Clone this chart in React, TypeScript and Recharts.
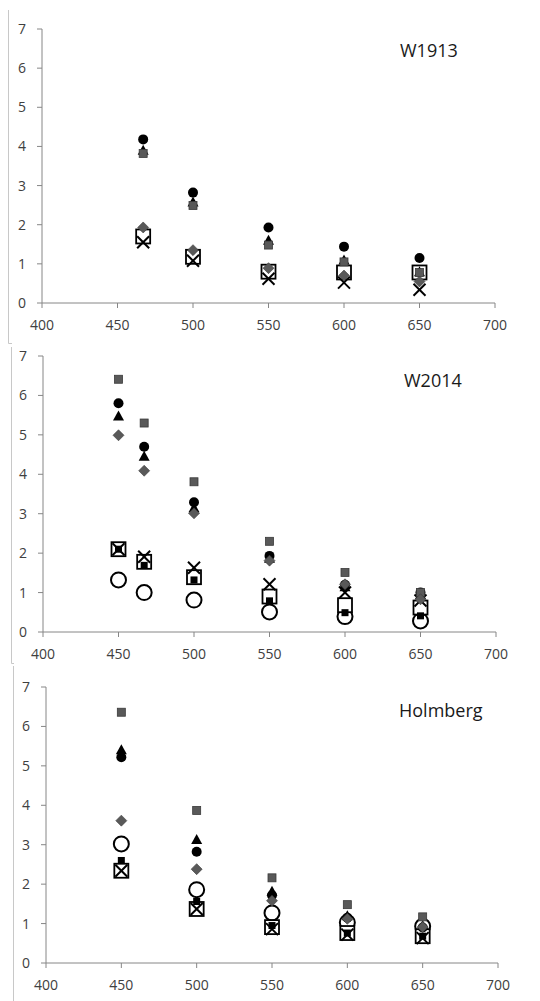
import React from "react";
import { ScatterChart, Scatter, XAxis, YAxis } from "recharts";

// ---------- data ----------
const xTicks = [400, 450, 500, 550, 600, 650, 700];
const yTicks = [0, 1, 2, 3, 4, 5, 6, 7];

// Panel 1: W1913
const w1913X = [467, 500, 550, 600, 650];
const w1913Circle = [4.18, 2.82, 1.93, 1.44, 1.15];
const w1913Triangle = [3.9, 2.58, 1.6, 1.1, 0.8];
const w1913Square = [3.82, 2.49, 1.48, 1.05, 0.78];
const w1913Diamond = [1.93, 1.35, 0.89, 0.7, 0.55];
const w1913OpenSquare = [1.7, 1.18, 0.8, 0.78, 0.78];
const w1913Cross = [1.55, 1.08, 0.62, 0.52, 0.34];

// Panel 2: W2014
const w2014X = [450, 467, 500, 550, 600, 650];
const w2014Square = [6.41, 5.3, 3.81, 2.3, 1.51, 1.0];
const w2014Circle = [5.8, 4.7, 3.29, 1.93, 1.2, 1.0];
const w2014Triangle = [5.48, 4.46, 3.15, 1.87, 1.15, 0.95];
const w2014Diamond = [4.99, 4.09, 3.01, 1.81, 1.21, 0.83];
const w2014Cross = [2.1, 1.91, 1.63, 1.21, 1.0, 0.8];
const w2014OpenSquare = [2.1, 1.78, 1.39, 0.9, 0.68, 0.62];
const w2014SmallSquare = [2.1, 1.69, 1.32, 0.79, 0.49, 0.41];
const w2014OpenCircle = [1.32, 1.0, 0.81, 0.51, 0.39, 0.28];

// Panel 3: Holmberg
const holmX = [450, 500, 550, 600, 650];
const holmSquare = [6.36, 3.87, 2.16, 1.48, 1.17];
const holmTriangle = [5.41, 3.13, 1.82, 1.2, 0.95];
const holmCircle = [5.22, 2.82, 1.72, 1.15, 0.9];
const holmDiamond = [3.61, 2.38, 1.58, 1.12, 0.91];
const holmOpenCircle = [3.02, 1.86, 1.27, 1.03, 0.93];
const holmSmallSquare = [2.6, 1.56, 0.95, 0.76, 0.68];
const holmOpenSquare = [2.34, 1.37, 0.91, 0.76, 0.68];
const holmCross = [2.34, 1.37, 0.86, 0.72, 0.63];

// ---------- markers ----------
type Kind =
  | "circle"
  | "triangle"
  | "square"
  | "diamond"
  | "openSquare"
  | "cross"
  | "smallSquare"
  | "openCircle";

const GREY = "#595959";

const marker = (kind: Kind) => (props: any) => {
  const { cx, cy } = props;
  if (cx == null || cy == null || isNaN(cx) || isNaN(cy)) return <g />;
  switch (kind) {
    case "circle":
      return <circle cx={cx} cy={cy} r={5} fill="#000" />;
    case "triangle":
      return (
        <polygon
          points={`${cx},${cy - 5.5} ${cx + 5.5},${cy + 4.5} ${cx - 5.5},${cy + 4.5}`}
          fill="#000"
        />
      );
    case "square":
      return (
        <rect x={cx - 4} y={cy - 4} width={8} height={8} fill={GREY} stroke="#3a3a3a" strokeWidth={0.8} />
      );
    case "diamond":
      return (
        <polygon
          points={`${cx},${cy - 5.5} ${cx + 5.5},${cy} ${cx},${cy + 5.5} ${cx - 5.5},${cy}`}
          fill={GREY}
          stroke="#3a3a3a"
          strokeWidth={0.6}
        />
      );
    case "openSquare":
      return (
        <rect x={cx - 7} y={cy - 7} width={14} height={14} fill="#fff" stroke="#000" strokeWidth={1.8} />
      );
    case "cross":
      return (
        <g stroke="#000" strokeWidth={2}>
          <line x1={cx - 6} y1={cy - 6} x2={cx + 6} y2={cy + 6} />
          <line x1={cx - 6} y1={cy + 6} x2={cx + 6} y2={cy - 6} />
        </g>
      );
    case "smallSquare":
      return <rect x={cx - 3.5} y={cy - 3.5} width={7} height={7} fill="#000" />;
    case "openCircle":
      return <circle cx={cx} cy={cy} r={7.5} fill="#fff" stroke="#000" strokeWidth={2} />;
  }
  return <g />;
};

const toData = (xs: number[], ys: number[]) => xs.map((x, i) => ({ x, y: ys[i] }));

const AXIS = "#868686";
const FONT = "'Open Sans', sans-serif";

type SeriesDef = { kind: Kind; xs: number[]; ys: number[] };

// drawing order: bottom -> top
const ORDER: Kind[] = [
  "openCircle",
  "openSquare",
  "cross",
  "smallSquare",
  "triangle",
  "circle",
  "square",
  "diamond",
];

function Panel(props: {
  top: number;
  height: number;
  plotLeft: number;
  plotRight: number;
  plotTop: number;
  plotBottom: number;
  series: SeriesDef[];
}) {
  const { top, height, plotLeft, plotRight, plotTop, plotBottom, series } = props;
  const xAxisH = 30;
  const sorted = [...series].sort((a, b) => ORDER.indexOf(a.kind) - ORDER.indexOf(b.kind));
  return (
    <div style={{ position: "absolute", left: 0, top, width: 540, height }}>
      <ScatterChart
        width={540}
        height={height}
        margin={{
          top: plotTop,
          left: 0,
          right: 540 - plotRight,
          bottom: height - plotBottom - xAxisH,
        }}
      >
        <XAxis
          type="number"
          dataKey="x"
          domain={[400, 700]}
          ticks={xTicks}
          interval={0}
          height={xAxisH}
          axisLine={{ stroke: AXIS, strokeWidth: 1 }}
          tickLine={{ stroke: AXIS }}
          tickSize={5}
          tickMargin={12}
          tick={{ fill: "#404040", fontSize: 14, fontFamily: FONT }}
          allowDataOverflow
        />
        <YAxis
          type="number"
          dataKey="y"
          domain={[0, 7]}
          ticks={yTicks}
          interval={0}
          width={plotLeft}
          axisLine={{ stroke: AXIS, strokeWidth: 1 }}
          tickLine={{ stroke: AXIS }}
          tickSize={5}
          tickMargin={11}
          tick={{ fill: "#404040", fontSize: 14, fontFamily: FONT }}
          allowDataOverflow
        />
        {sorted.map((s, i) => (
          <Scatter
            key={i}
            data={toData(s.xs, s.ys)}
            shape={marker(s.kind)}
            isAnimationActive={false}
          />
        ))}
      </ScatterChart>
    </div>
  );
}

export default function App() {
  return (
    <div
      style={{
        position: "absolute",
        left: 0,
        top: 0,
        width: 540,
        height: 1001,
        background: "#fff",
        overflow: "hidden",
      }}
    >
      <Panel
        top={0}
        height={340}
        plotLeft={42}
        plotRight={495}
        plotTop={29}
        plotBottom={303}
        series={[
          { kind: "circle", xs: w1913X, ys: w1913Circle },
          { kind: "triangle", xs: w1913X, ys: w1913Triangle },
          { kind: "square", xs: w1913X, ys: w1913Square },
          { kind: "diamond", xs: w1913X, ys: w1913Diamond },
          { kind: "openSquare", xs: w1913X, ys: w1913OpenSquare },
          { kind: "cross", xs: w1913X, ys: w1913Cross },
        ]}
      />
      <Panel
        top={340}
        height={325}
        plotLeft={43}
        plotRight={496}
        plotTop={16}
        plotBottom={292}
        series={[
          { kind: "square", xs: w2014X, ys: w2014Square },
          { kind: "circle", xs: w2014X, ys: w2014Circle },
          { kind: "triangle", xs: w2014X, ys: w2014Triangle },
          { kind: "diamond", xs: w2014X, ys: w2014Diamond },
          { kind: "cross", xs: w2014X, ys: w2014Cross },
          { kind: "openSquare", xs: w2014X, ys: w2014OpenSquare },
          { kind: "smallSquare", xs: w2014X, ys: w2014SmallSquare },
          { kind: "openCircle", xs: w2014X, ys: w2014OpenCircle },
        ]}
      />
      <Panel
        top={665}
        height={336}
        plotLeft={46}
        plotRight={498}
        plotTop={22}
        plotBottom={298}
        series={[
          { kind: "square", xs: holmX, ys: holmSquare },
          { kind: "triangle", xs: holmX, ys: holmTriangle },
          { kind: "circle", xs: holmX, ys: holmCircle },
          { kind: "diamond", xs: holmX, ys: holmDiamond },
          { kind: "openCircle", xs: holmX, ys: holmOpenCircle },
          { kind: "smallSquare", xs: holmX, ys: holmSmallSquare },
          { kind: "openSquare", xs: holmX, ys: holmOpenSquare },
          { kind: "cross", xs: holmX, ys: holmCross },
        ]}
      />
      <svg
        width={540}
        height={1001}
        style={{ position: "absolute", left: 0, top: 0, pointerEvents: "none" }}
      >
        <g stroke="#c8c8c8" strokeWidth={1} fill="none">
          <polyline points="8.5,10 8.5,343.5 12,343.5" />
          <polyline points="11.5,347 11.5,663.5 14,663.5" />
          <line x1={13.5} y1={666} x2={13.5} y2={1001} />
        </g>
        <g fontFamily={FONT} fontSize={18} fill="#1a1a1a">
          <text x={400} y={57}>W1913</text>
          <text x={404} y={387}>W2014</text>
          <text x={399} y={717}>Holmberg</text>
        </g>
      </svg>
    </div>
  );
}
